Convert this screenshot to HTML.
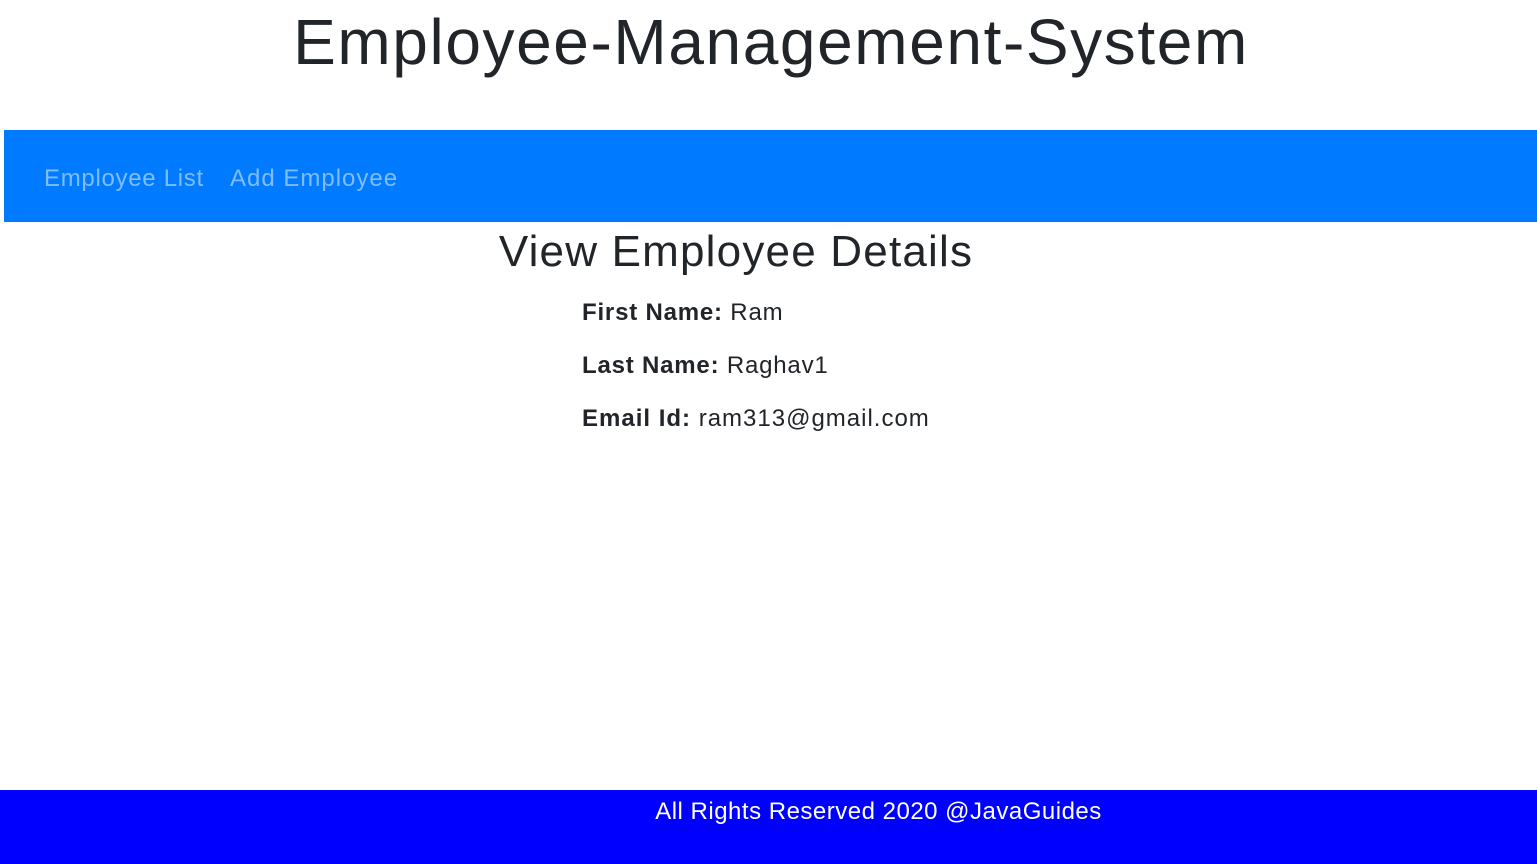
<!DOCTYPE html>
<html><head><meta charset="utf-8"><style>
html,body{margin:0;padding:0;width:1537px;height:864px;overflow:hidden;background:#fff;font-family:"Liberation Sans",sans-serif;color:#212529;position:relative}
.abs{position:absolute;white-space:nowrap}
</style></head><body>
<h1 class="abs" style="margin:0;left:0;width:1542px;text-align:center;top:2px;font-size:64px;font-weight:500;line-height:80px;letter-spacing:1.6px">Employee-Management-System</h1>
<nav class="abs" style="left:4px;top:130px;width:1533px;height:92px;background:#007bff">
<a class="abs" style="left:40px;top:34px;font-size:24px;color:#80bdff;text-decoration:none;line-height:30px;letter-spacing:0.7px">Employee List</a>
<a class="abs" style="left:226px;top:34px;font-size:24px;color:#80bdff;text-decoration:none;line-height:30px;letter-spacing:1px">Add Employee</a>
</nav>
<h2 class="abs" style="margin:0;left:480px;width:512px;text-align:center;top:226px;font-size:44px;font-weight:500;line-height:52px;letter-spacing:1.2px">View Employee Details</h2>
<div class="abs" style="left:582px;top:298px;font-size:24px;line-height:30px;letter-spacing:0.8px"><b>First Name:</b> Ram</div>
<div class="abs" style="left:582px;top:351px;font-size:24px;line-height:30px;letter-spacing:0.8px"><b>Last Name:</b> Raghav1</div>
<div class="abs" style="left:582px;top:404px;font-size:24px;line-height:30px;letter-spacing:1px"><b>Email Id:</b> ram313@gmail.com</div>
<footer class="abs" style="left:0;top:790px;width:1537px;height:74px;background:#0000ff">
<span class="abs" style="left:640px;width:477px;text-align:center;top:7px;font-size:24px;line-height:30px;color:#fff;letter-spacing:0.5px">All Rights Reserved 2020 @JavaGuides</span>
</footer>
</body></html>
